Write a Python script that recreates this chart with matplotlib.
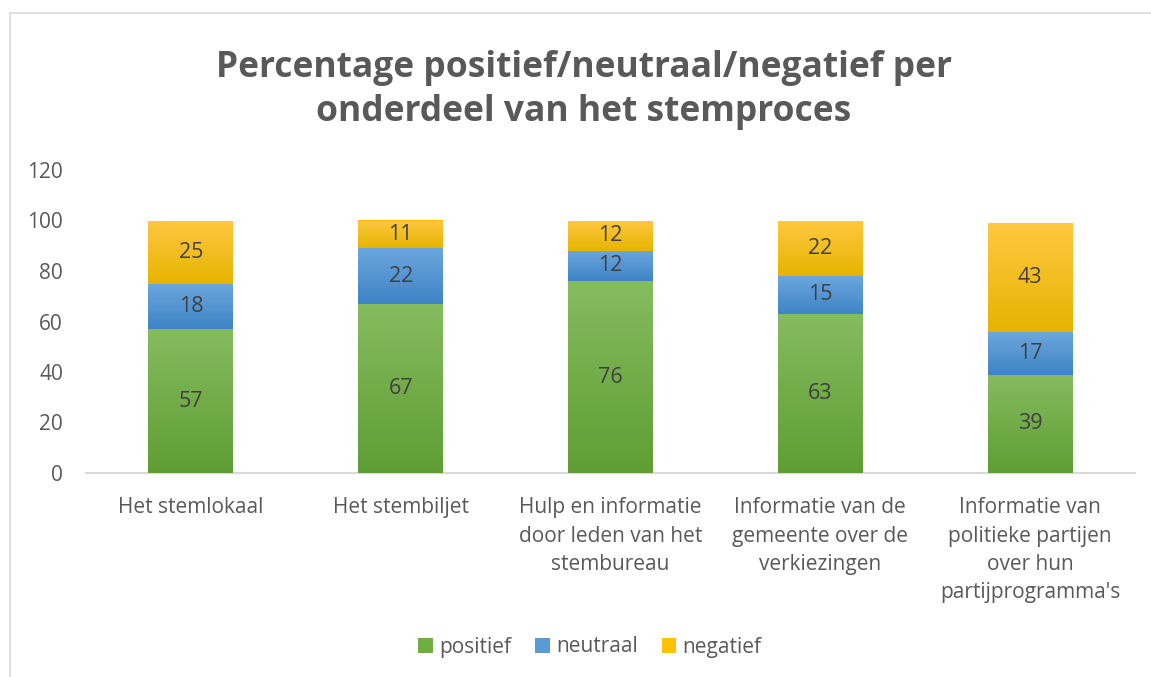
import matplotlib
matplotlib.use("Agg")
import matplotlib.pyplot as plt
import numpy as np
from matplotlib.patches import Rectangle, Patch
from matplotlib.colors import LinearSegmentedColormap

plt.rcParams['font.family'] = ['Open Sans', 'DejaVu Sans']

categories = ["Het stemlokaal", "Het stembiljet",
              "Hulp en informatie\ndoor leden van het\nstembureau",
              "Informatie van de\ngemeente over de\nverkiezingen",
              "Informatie van\npolitieke partijen\nover hun\npartijprogramma's"]
positief = [57, 67, 76, 63, 39]
neutraal = [18, 22, 12, 15, 17]
negatief = [25, 11, 12, 22, 43]
series_names = ["positief", "neutraal", "negatief"]
title = "Percentage positief/neutraal/negatief per\nonderdeel van het stemproces"
yticks = [0, 20, 40, 60, 80, 100, 120]

colors_top = ["#86BC60", "#6CA6DD", "#FFC842"]
colors_bot = ["#5F9E34", "#3E84C6", "#E6B400"]
colors_mid = ["#70AD47", "#5B9BD5", "#FFC000"]
grey = "#595959"

fig = plt.figure(figsize=(11.51, 6.77), dpi=100)
fig.patches.append(Rectangle((10/1151, -0.1), 1.2, 1 - 13/677 + 0.1, transform=fig.transFigure,
                             fill=False, edgecolor="#D9D9D9", linewidth=1.2, zorder=0))
ax = fig.add_axes([86/1151, 1 - 473/677, (1135 - 86)/1151, (473 - 170)/677])

x = np.arange(len(categories))
width = 0.405
bottoms = np.zeros(len(categories))
all_series = [positief, neutraal, negatief]
for i, vals in enumerate(all_series):
    bars = ax.bar(x, vals, width, bottom=bottoms, color=colors_mid[i], edgecolor="none", zorder=2)
    cmap = LinearSegmentedColormap.from_list("g%d" % i, [colors_bot[i], colors_top[i]])
    grad = np.linspace(0, 1, 256).reshape(-1, 1)
    for b, v in zip(bars, vals):
        x0, y0, w, h = b.get_x(), b.get_y(), b.get_width(), b.get_height()
        im = ax.imshow(grad, cmap=cmap, origin="lower", aspect="auto",
                       extent=(x0, x0 + w, y0, y0 + h), zorder=3, interpolation="bilinear")
        im.set_clip_path(b)
        ax.text(x0 + w / 2, y0 + h / 2, str(v), ha="center", va="center",
                fontsize=15.5, color="#404040", zorder=5)
    bottoms = bottoms + np.array(vals)

ax.set_xlim(-0.5, len(categories) - 0.5)
ax.set_ylim(0, 120)
ax.set_yticks(yticks)
ax.set_yticklabels([str(t) for t in yticks], fontsize=15, color=grey)
ax.set_xticks(x)
ax.set_xticklabels(categories, fontsize=15, color=grey, linespacing=1.45, va="top")
ax.tick_params(axis="both", length=0)
ax.tick_params(axis="x", pad=17.5)
ax.tick_params(axis="y", pad=16.5)
for s in ["top", "right", "left"]:
    ax.spines[s].set_visible(False)
ax.spines["bottom"].set_color("#D9D9D9")
ax.spines["bottom"].set_linewidth(1.5)
ax.spines["bottom"].set_zorder(1)

fig.text(0.507, 1 - 90/677, title, ha="center", va="center", fontsize=25.5, fontweight="bold",
         color=grey, linespacing=1.33)

handles = [Patch(facecolor=colors_mid[i], edgecolor="none") for i in range(3)]
leg = fig.legend(handles, series_names, loc="center", bbox_to_anchor=(590/1151, 1 - 647/677),
                 ncol=3, frameon=False, fontsize=15, handlelength=0.7, handleheight=0.7,
                 handletextpad=0.3, columnspacing=1.15)
for t in leg.get_texts():
    t.set_color(grey)

fig.savefig("out.png", dpi=100)
